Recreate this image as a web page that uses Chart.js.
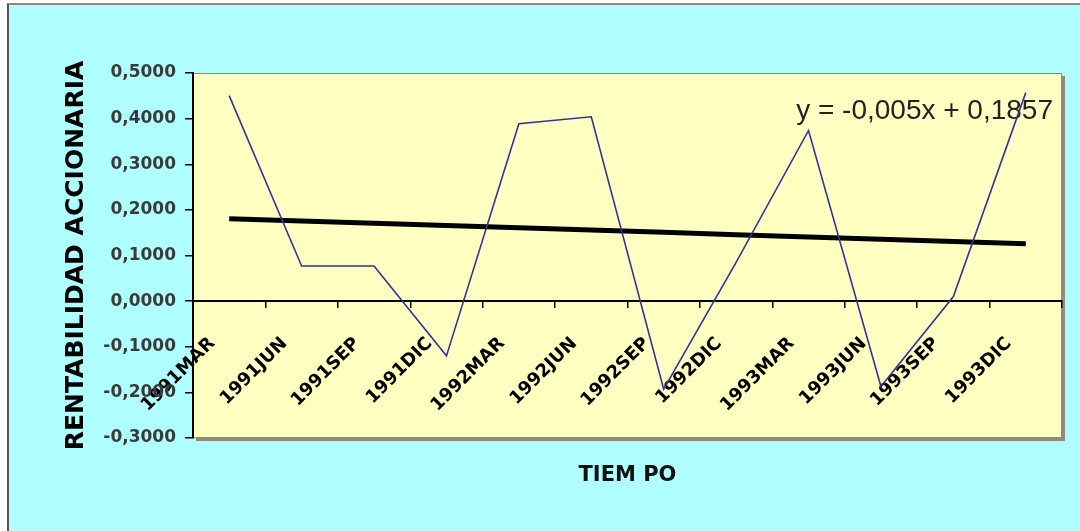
<!DOCTYPE html>
<html lang="es">
<head>
<meta charset="utf-8">
<title>Rentabilidad accionaria</title>
<script src="https://cdn.jsdelivr.net/npm/chart.js@4/dist/chart.umd.min.js"></script>
<style>
  html, body { margin: 0; padding: 0; background: #ffffff; }
  #marco {
    position: absolute; left: 0; top: 0; width: 1080px; height: 531px; overflow: hidden;
  }
  #fondo {
    position: absolute; left: 7px; top: 3px; right: 0; bottom: 0;
    background: #B0FFFF;
    border-left: 2px solid #555555;
    border-top: 2px solid #8a8a8a;
  }
  #grafico { position: absolute; left: 0; top: 0; }
</style>
</head>
<body>
<div id="marco">
  <div id="fondo"></div>
  <canvas id="grafico" width="1080" height="531"></canvas>
</div>
<script>
// Trimestres (eje X)
const periodos = ['1991MAR', '1991JUN', '1991SEP', '1991DIC',
                  '1992MAR', '1992JUN', '1992SEP', '1992DIC',
                  '1993MAR', '1993JUN', '1993SEP', '1993DIC'];

// Rentabilidad accionaria trimestral
const rentabilidad = [0.4505, 0.0770, 0.0770, -0.1200, 0.3890, 0.4040,
                      -0.1930, 0.0850, 0.3740, -0.1870, 0.0100, 0.4570];

// Coeficientes de la línea de tendencia lineal
const pendiente = -0.005;
const intercepto = 0.1857;

// Rango y paso del eje Y
const yMin = -0.3;
const yMax = 0.5;
const yPaso = 0.1;

const coma = v => String(v).replace('.', ',');
const tendencia = periodos.map((_, i) => pendiente * (i + 1) + intercepto);
const ecuacion = 'y = ' + coma(pendiente) + 'x + ' + coma(intercepto);

// Fondo amarillo del área de trazado, con sombra gris
const areaTrazado = {
  id: 'areaTrazado',
  beforeDraw(chart) {
    const { ctx, chartArea: a } = chart;
    ctx.save();
    ctx.fillStyle = '#8c8c80';
    ctx.fillRect(a.left + 3, a.top + 3, a.width, a.height);
    ctx.fillStyle = '#FFFFC2';
    ctx.fillRect(a.left, a.top, a.width, a.height);
    ctx.strokeStyle = '#8a8a8a';
    ctx.lineWidth = 1;
    ctx.strokeRect(a.left + 0.5, a.top + 0.5, a.width - 1, a.height - 1);
    ctx.restore();
  }
};

// Etiqueta con la ecuación de la tendencia
const etiquetaEcuacion = {
  id: 'etiquetaEcuacion',
  beforeDatasetsDraw(chart) {
    const { ctx, chartArea: a } = chart;
    ctx.save();
    ctx.font = '28px "Liberation Sans", Arial, sans-serif';
    ctx.fillStyle = '#222222';
    ctx.textAlign = 'right';
    ctx.textBaseline = 'middle';
    ctx.fillText(ecuacion, a.right - 9, a.top + 38);
    ctx.restore();
  }
};

new Chart(document.getElementById('grafico'), {
  type: 'line',
  data: {
    labels: periodos,
    datasets: [
      {
        label: 'Rentabilidad',
        data: rentabilidad,
        borderColor: '#333399',
        borderWidth: 1.6,
        pointRadius: 0,
        tension: 0,
        fill: false
      },
      {
        label: 'Lineal (Rentabilidad)',
        data: tendencia,
        borderColor: '#000000',
        borderWidth: 5,
        pointRadius: 0,
        tension: 0,
        fill: false
      }
    ]
  },
  options: {
    responsive: false,
    devicePixelRatio: 1,
    animation: false,
    layout: { padding: { left: 0, top: 73, right: 18, bottom: 43 } },
    plugins: {
      legend: { display: false },
      tooltip: { enabled: false },
      title: {
        display: true,
        text: 'TIEM PO',
        position: 'bottom',
        fullSize: false,
        color: '#111111',
        font: { family: '"DejaVu Sans", sans-serif', size: 21, weight: 'bold' },
        padding: { top: 24.8, bottom: 0 }
      }
    },
    scales: {
      x: {
        type: 'category',
        position: { y: 0 },
        offset: true,
        grid: {
          offset: true,
          drawOnChartArea: false,
          drawTicks: true,
          tickLength: 6,
          color: '#000000',
          lineWidth: 1.5
        },
        border: { display: true, color: '#000000', width: 2 },
        ticks: {
          autoSkip: false,
          minRotation: 45,
          maxRotation: 45,
          labelOffset: -17,
          padding: 26,
          color: '#000000',
          font: { family: '"DejaVu Sans", sans-serif', size: 18, weight: 'bold' }
        }
      },
      y: {
        min: yMin,
        max: yMax,
        afterFit(scale) { scale.width = 193; },
        grid: {
          drawOnChartArea: false,
          drawTicks: true,
          tickLength: 8,
          color: '#000000',
          lineWidth: 1.5
        },
        border: { display: true, color: '#000000', width: 2 },
        ticks: {
          stepSize: yPaso,
          padding: 9,
          color: '#3a3a3a',
          font: { family: '"DejaVu Sans", sans-serif', size: 17, weight: 'bold' },
          callback: v => (Math.abs(v) < 1e-9 ? 0 : v).toFixed(4).replace('.', ',')
        },
        title: {
          display: true,
          text: 'RENTABILIDAD ACCIONARIA',
          color: '#000000',
          font: { family: '"DejaVu Sans", sans-serif', size: 25, weight: 'bold' },
          padding: { top: 61, bottom: 0 }
        }
      }
    }
  },
  plugins: [areaTrazado, etiquetaEcuacion]
});
</script>
</body>
</html>
